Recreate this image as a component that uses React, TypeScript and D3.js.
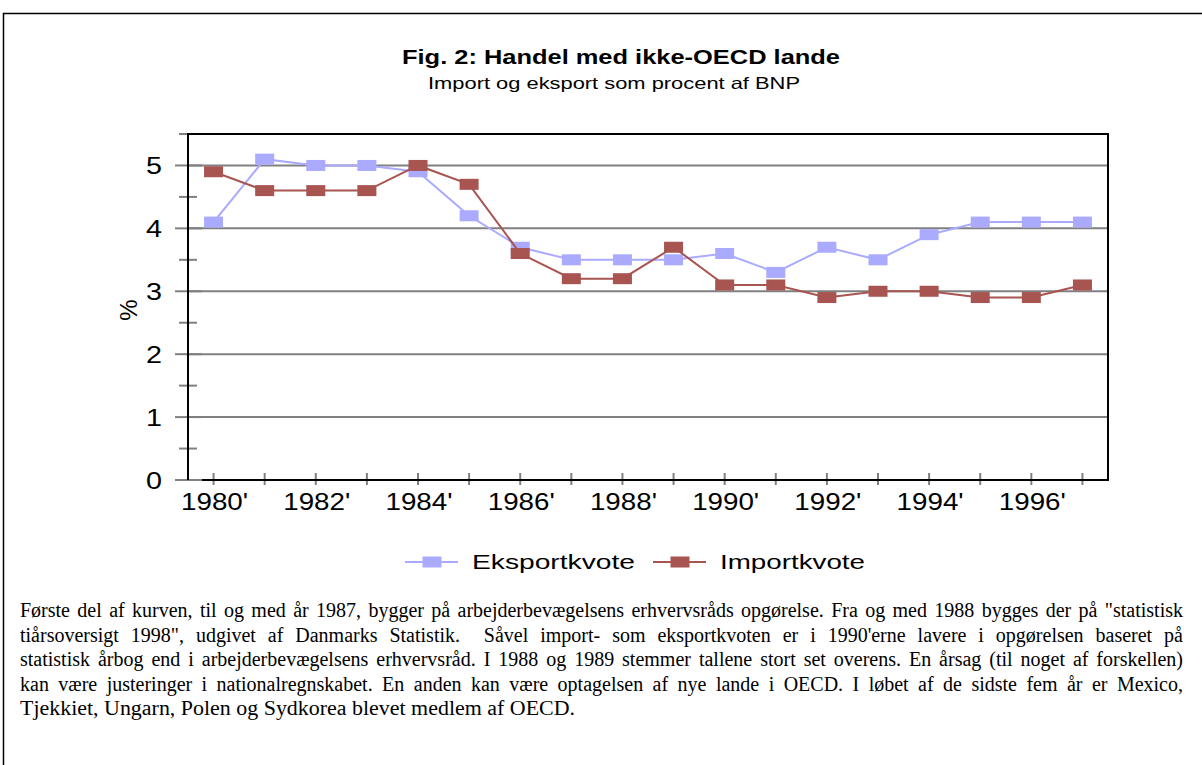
import React, { useEffect, useRef } from 'react'
import * as d3 from 'd3'

const years = [
  1980, 1981, 1982, 1983, 1984, 1985, 1986, 1987, 1988,
  1989, 1990, 1991, 1992, 1993, 1994, 1995, 1996, 1997,
]
const eksport = [
  4.1, 5.1, 5.0, 5.0, 4.9, 4.2, 3.7, 3.5, 3.5,
  3.5, 3.6, 3.3, 3.7, 3.5, 3.9, 4.1, 4.1, 4.1,
]
const import_ = [
  4.9, 4.6, 4.6, 4.6, 5.0, 4.7, 3.6, 3.2, 3.2,
  3.7, 3.1, 3.1, 2.9, 3.0, 3.0, 2.9, 2.9, 3.1,
]
const yTicks = [0, 1, 2, 3, 4, 5]
const yMinor = [0.5, 1.5, 2.5, 3.5, 4.5, 5.5]
const labelYears = [1980, 1982, 1984, 1986, 1988, 1990, 1992, 1994, 1996]

const series = [
  { name: 'Eksportkvote', values: eksport, color: '#aaaaff', textW: 163 },
  { name: 'Importkvote', values: import_, color: '#a85450', textW: 145 },
]

const noteLines = [
  'Første del af kurven, til og med år 1987, bygger på arbejderbevægelsens erhvervsråds opgørelse. Fra og med 1988 bygges der på "statistisk',
  'tiårsoversigt 1998", udgivet af Danmarks Statistik.  Såvel import- som eksportkvoten er i 1990\'erne lavere i opgørelsen baseret på',
  'statistisk årbog end i arbejderbevægelsens erhvervsråd. I 1988 og 1989 stemmer tallene stort set overens. En årsag (til noget af forskellen)',
  'kan være justeringer i nationalregnskabet. En anden kan være optagelsen af nye lande i OECD. I løbet af de sidste fem år er Mexico,',
  'Tjekkiet, Ungarn, Polen og Sydkorea blevet medlem af OECD.',
]

const W = 1202
const H = 765
const plot = { left: 188, top: 134, right: 1108, bottom: 480 }
const sans = 'Arial, "Liberation Sans", sans-serif'
const serif = '"Times New Roman", "Liberation Serif", serif'

const x = d3.scalePoint<number>()
  .domain(years)
  .range([plot.left, plot.right])
  .padding(0.5)

const y = d3.scaleLinear()
  .domain([0, 5.5])
  .range([plot.bottom, plot.top])

const line = d3.line<number>()
  .x((d, i) => x(years[i]) as number)
  .y(d => y(d))

const MW = 19
const MH = 11
const noteLeft = 20
const noteWidth = 1163

export default function App() {
  const noteRef = useRef<SVGGElement>(null)

  // justify the note lines: widen word gaps if short, squeeze glyphs if long
  useEffect(() => {
    if (!noteRef.current) return
    d3.select(noteRef.current)
      .selectAll<SVGTextElement, unknown>('text.just')
      .each(function () {
        const natural = this.getComputedTextLength()
        const txt = this.textContent || ''
        const gaps = (txt.match(/ /g) || []).length
        if (natural < noteWidth && gaps > 0) {
          d3.select(this).attr('word-spacing', (noteWidth - natural) / gaps)
        } else {
          d3.select(this)
            .attr('textLength', noteWidth)
            .attr('lengthAdjust', 'spacingAndGlyphs')
        }
      })
  }, [])

  return (
    <svg
      width={W}
      height={H}
      style={{ position: 'absolute', left: 0, top: 0, background: '#fff' }}
    >
      {/* outer frame */}
      <path d={`M3.5,${H + 5}V13.5H${W + 5}`} fill="none" stroke="#000" strokeWidth={1.5} />

      <text
        x={621}
        y={64}
        textAnchor="middle"
        fontFamily={sans}
        fontWeight="bold"
        fontSize={21}
        textLength={438}
        lengthAdjust="spacingAndGlyphs"
      >
        Fig. 2: Handel med ikke-OECD lande
      </text>
      <text
        x={614}
        y={89}
        textAnchor="middle"
        fontFamily={sans}
        fontSize={16.5}
        textLength={372}
        lengthAdjust="spacingAndGlyphs"
      >
        Import og eksport som procent af BNP
      </text>

      {/* grid and ticks */}
      {yTicks.filter(t => t > 0).map(t => (
        <line key={t} x1={plot.left} x2={plot.right} y1={y(t)} y2={y(t)} stroke="#808080" strokeWidth={2} />
      ))}
      {yTicks.map(t => (
        <line key={`mt${t}`} x1={plot.left - 13} x2={plot.left + 14} y1={y(t)} y2={y(t)} stroke="#808080" strokeWidth={2} />
      ))}
      {yMinor.map(t => (
        <line key={`mi${t}`} x1={plot.left - 9} x2={plot.left + 9} y1={y(t)} y2={y(t)} stroke="#808080" strokeWidth={2} />
      ))}
      {years.map(yr => (
        <line key={`xt${yr}`} x1={x(yr)} x2={x(yr)} y1={plot.bottom - 7} y2={plot.bottom + 5} stroke="#808080" strokeWidth={2} />
      ))}

      {/* plot frame */}
      <path
        d={`M${plot.left},${plot.bottom}V${plot.top}H${plot.right}V${plot.bottom}H${plot.left + 14}`}
        fill="none"
        stroke="#000"
        strokeWidth={2}
      />

      {yTicks.map(t => (
        <text
          key={`yl${t}`}
          x={162}
          y={y(t) + 9}
          textAnchor="end"
          fontFamily={sans}
          fontSize={24}
          textLength={16}
          lengthAdjust="spacingAndGlyphs"
        >
          {t}
        </text>
      ))}
      {labelYears.map(yr => (
        <text
          key={`xl${yr}`}
          x={(x(yr) as number) + 1}
          y={510}
          textAnchor="middle"
          fontFamily={sans}
          fontSize={23}
          textLength={67}
          lengthAdjust="spacingAndGlyphs"
        >
          {`${yr}'`}
        </text>
      ))}
      <text
        transform="translate(137,310) rotate(-90)"
        textAnchor="middle"
        fontFamily={sans}
        fontSize={24}
      >
        %
      </text>

      {series.map(s => (
        <g key={s.name}>
          <path d={line(s.values) || ''} fill="none" stroke={s.color} strokeWidth={2} />
          {s.values.map((v, i) => (
            <rect
              key={i}
              x={(x(years[i]) as number) - MW / 2}
              y={y(v) - MH / 2}
              width={MW}
              height={MH}
              fill={s.color}
            />
          ))}
        </g>
      ))}

      {/* legend */}
      {series.map((s, i) => {
        const lx = 405 + i * 248
        return (
          <g key={`lg${s.name}`}>
            <line x1={lx} x2={lx + 53} y1={562} y2={562} stroke={s.color} strokeWidth={2} />
            <rect x={lx + 27 - MW / 2} y={562 - MH / 2} width={MW} height={MH} fill={s.color} />
            <text
              x={lx + 67}
              y={569}
              fontFamily={sans}
              fontSize={20}
              textLength={s.textW}
              lengthAdjust="spacingAndGlyphs"
            >
              {s.name}
            </text>
          </g>
        )
      })}

      <g ref={noteRef} fontFamily={serif} fontSize={20}>
        {noteLines.map((t, i) => {
          const last = i === noteLines.length - 1
          return (
            <text
              key={`n${i}`}
              className={last ? 'last' : 'just'}
              x={noteLeft}
              y={617 + i * 24.5}
              textLength={last ? 555 : undefined}
              lengthAdjust={last ? 'spacingAndGlyphs' : undefined}
              style={{ whiteSpace: 'pre' }}
            >
              {t}
            </text>
          )
        })}
      </g>
    </svg>
  )
}
